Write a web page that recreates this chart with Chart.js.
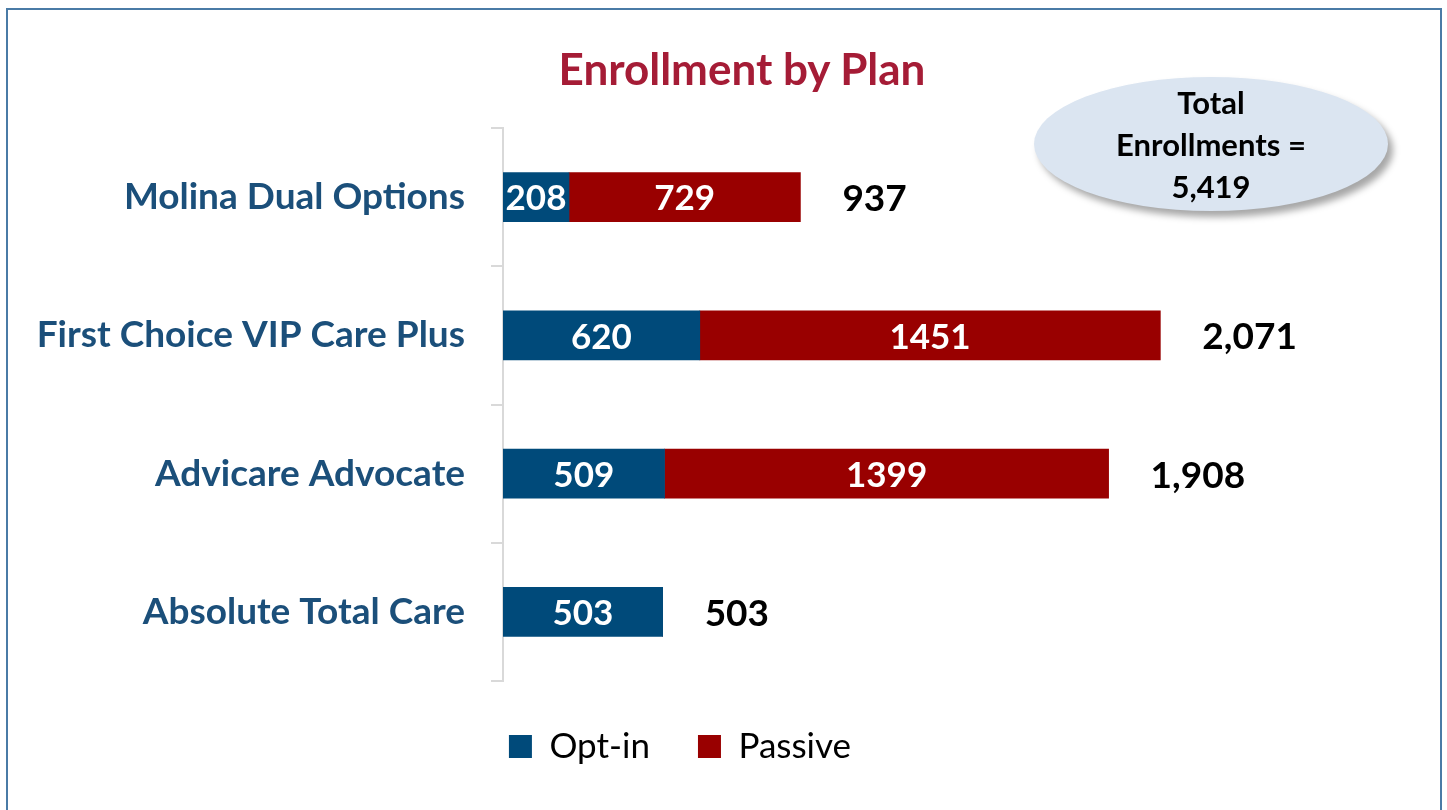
<!DOCTYPE html>
<html>
<head>
<meta charset="utf-8">
<script src="https://cdn.jsdelivr.net/npm/chart.js@4/dist/chart.umd.min.js"></script>
<style>
  html, body { margin: 0; padding: 0; background: #fff; overflow: hidden; }
  #frame {
    position: absolute; left: 6px; top: 8px; width: 1436px; height: 820px;
    border: 2px solid #4a7ba6; box-sizing: border-box;
  }
  #wrap { position: absolute; left: 0; top: 0; width: 1447px; height: 810px; }
  #title {
    position: absolute; left: 542px; top: 42px; width: 400px; text-align: center;
    font-family: Lato, "Open Sans", sans-serif; font-weight: bold; font-size: 44px;
    line-height: 52px; color: #a51c36;
  }
  #bubble {
    position: absolute; left: 1034px; top: 77px; width: 354px; height: 134px;
    border-radius: 50%; background: #dbe5f1;
    box-shadow: 5px 6px 7px rgba(0,0,0,0.35);
    font-family: Lato, "Open Sans", sans-serif; font-weight: bold; font-size: 31px;
    color: #000; text-align: center; line-height: 42px;
    display: flex; flex-direction: column; justify-content: center;
  }
</style>
</head>
<body>
<div id="frame"></div>
<div id="wrap"><canvas id="chart" width="1447" height="810"></canvas></div>
<div id="title">Enrollment by Plan</div>
<div id="bubble"><div>Total</div><div>Enrollments =</div><div>5,419</div></div>
<script>
var plans = ['Molina Dual Options', 'First Choice VIP Care Plus', 'Advicare Advocate', 'Absolute Total Care'];
var optIn = [208, 620, 509, 503];
var passive = [729, 1451, 1399, 0];
var totals = plans.map(function(p, i) { return optIn[i] + passive[i]; });

var blue = '#004a7a';
var red = '#990000';
var font = 'Lato, "Open Sans", sans-serif';

// labels inside the bars and totals to the right
var barLabels = {
  id: 'barLabels',
  afterDatasetsDraw: function(chart) {
    var ctx = chart.ctx;
    ctx.save();
    ctx.textBaseline = 'middle';
    ctx.font = 'bold 35px ' + font;
    chart.data.datasets.forEach(function(ds, di) {
      var meta = chart.getDatasetMeta(di);
      meta.data.forEach(function(bar, i) {
        if (!ds.data[i]) return;
        ctx.fillStyle = '#fff';
        ctx.textAlign = 'center';
        ctx.fillText(ds.data[i], (bar.x + bar.base) / 2, bar.y + 2);
      });
    });
    var xs = chart.scales.x;
    var ys = chart.scales.y;
    ctx.font = 'bold 37px ' + font;
    totals.forEach(function(t, i) {
      ctx.fillStyle = '#000';
      ctx.textAlign = 'left';
      ctx.fillText(t.toLocaleString('en-US'), xs.getPixelForValue(t) + 42, ys.getPixelForValue(i) + 2);
    });
    ctx.restore();
  }
};

new Chart(document.getElementById('chart').getContext('2d'), {
  type: 'bar',
  data: {
    labels: plans,
    datasets: [
      { label: 'Opt-in', data: optIn, backgroundColor: blue, barThickness: 49 },
      { label: 'Passive', data: passive, backgroundColor: red, barThickness: 49 }
    ]
  },
  options: {
    indexAxis: 'y',
    responsive: false,
    animation: false,
    layout: { padding: { left: 0, right: 87, top: 128, bottom: 36 } },
    scales: {
      x: {
        stacked: true, min: 0, max: 2700, display: false
      },
      y: {
        stacked: true,
        afterFit: function(scale) { scale.width = 503; },
        border: { display: true, color: '#d9d9d9', width: 2 },
        grid: { display: true, drawOnChartArea: false, drawTicks: true, tickLength: 12, color: '#d9d9d9', lineWidth: 2 },
        ticks: {
          padding: 26,
          color: '#1b4f7a',
          font: { family: font, size: 37, weight: 'bold' }
        }
      }
    },
    plugins: {
      legend: {
        position: 'bottom',
        labels: {
          boxWidth: 23, boxHeight: 23, padding: 48,
          color: '#000',
          font: { family: font, size: 35 }
        }
      },
      tooltip: { enabled: false }
    }
  },
  plugins: [barLabels]
});
</script>
</body>
</html>
